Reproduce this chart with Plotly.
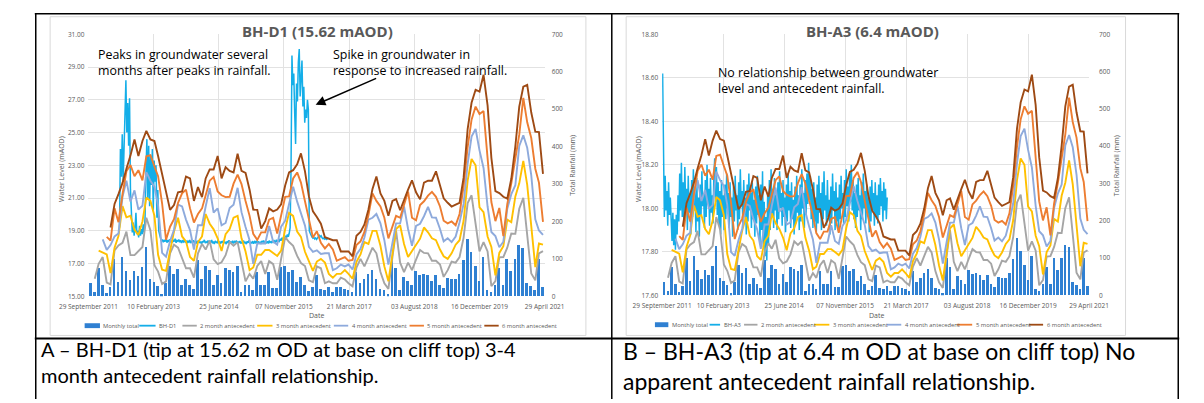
import plotly.graph_objects as go
import pandas as pd

W, H = 1204, 403

# ---------------- data ----------------
tick_dates = ["2011-09-29", "2013-02-10", "2014-06-25", "2015-11-07",
              "2017-03-21", "2018-08-03", "2019-12-16", "2021-04-29"]
tick_labels = ["29 September 2011", "10 February 2013", "25 June 2014", "07 November 2015",
               "21 March 2017", "03 August 2018", "16 December 2019", "29 April 2021"]

# monthly rainfall total (mm), Oct 2011 .. Apr 2021
rain = [35, 12, 75, 30, 7, 25, 98, 38, 105, 68,
        42, 68, 54, 78, 132, 45, 38, 28, 5, 35,
        80, 58, 72, 30, 45, 30, 20, 95, 45, 80,
        69, 30, 56, 35, 75, 70, 65, 80, 10, 30,
        30, 17, 64, 30, 30, 64, 22, 22, 78, 80,
        65, 70, 38, 51, 30, 13, 25, 55, 20, 15,
        25, 10, 25, 25, 20, 15, 12, 65, 35, 45,
        60, 70, 45, 20, 15, 5, 100, 75, 15, 50,
        40, 30, 68, 56, 60, 55, 40, 55, 30, 22,
        48, 45, 45, 60, 97, 152, 118, 80, 40, 105,
        15, 12, 29, 75, 30, 100, 68, 99, 135, 128,
        35, 26, 17, 98, 23]

ante2 = [None,
         47, 87, 105, 37, 32, 123, 136, 143, 173,
         110, 110, 122, 132, 210, 177, 83, 66, 33, 40,
         115, 138, 130, 102, 75, 75, 50, 115, 140, 125,
         149, 99, 86, 91, 110, 145, 135, 145, 90, 40,
         60, 47, 81, 94, 60, 94, 86, 44, 100, 158,
         145, 135, 108, 89, 81, 43, 38, 80, 75, 35,
         40, 35, 35, 50, 45, 35, 27, 77, 100, 80,
         105, 130, 115, 65, 35, 20, 105, 175, 90, 65,
         90, 70, 98, 124, 116, 115, 95, 95, 85, 52,
         70, 93, 90, 105, 157, 249, 270, 198, 120, 145,
         120, 27, 41, 104, 105, 130, 168, 167, 234, 263,
         163, 61, 43, 115, 121]

ante3 = [None, None,
         122, 117, 112, 62, 130, 161, 241, 211,
         215, 178, 164, 200, 264, 255, 215, 111, 71, 68,
         120, 173, 210, 160, 147, 105, 95, 145, 160, 220,
         194, 179, 155, 121, 166, 180, 210, 215, 155, 120,
         70, 77, 111, 111, 124, 124, 116, 108, 122, 180,
         223, 215, 173, 159, 119, 94, 68, 93, 100, 90,
         60, 50, 60, 60, 70, 60, 47, 92, 112, 145,
         140, 175, 175, 135, 80, 40, 120, 180, 190, 140,
         105, 120, 138, 154, 184, 171, 155, 150, 125, 107,
         100, 115, 138, 150, 202, 309, 367, 350, 238, 225,
         160, 132, 56, 116, 134, 205, 198, 267, 302, 362,
         298, 189, 78, 141, 138]

ante4 = [None, None, None,
         152, 124, 137, 160, 168, 266, 309,
         253, 283, 232, 242, 332, 309, 293, 243, 116, 106,
         148, 178, 245, 240, 205, 177, 125, 190, 190, 240,
         289, 224, 235, 190, 196, 236, 245, 290, 225, 185,
         150, 87, 141, 141, 141, 188, 146, 138, 186, 202,
         245, 293, 253, 224, 189, 132, 119, 123, 113, 115,
         115, 70, 75, 85, 80, 85, 72, 112, 127, 157,
         205, 210, 220, 195, 150, 85, 140, 195, 195, 240,
         180, 135, 188, 194, 214, 239, 211, 210, 180, 147,
         155, 145, 160, 198, 247, 354, 427, 447, 390, 343,
         240, 172, 161, 131, 146, 234, 273, 297, 402, 430,
         397, 324, 206, 176, 164]

ante5 = [None, None, None, None,
         159, 149, 235, 198, 273, 334,
         351, 321, 337, 310, 374, 377, 347, 321, 248, 151,
         186, 206, 250, 275, 285, 235, 197, 220, 235, 270,
         309, 319, 280, 270, 265, 266, 301, 325, 300, 255,
         215, 167, 151, 171, 171, 205, 210, 168, 216, 266,
         267, 315, 331, 304, 254, 202, 157, 174, 143, 128,
         140, 125, 95, 100, 105, 95, 97, 137, 147, 172,
         217, 275, 255, 240, 210, 155, 185, 215, 210, 245,
         280, 210, 203, 244, 254, 269, 279, 266, 240, 202,
         195, 200, 190, 220, 295, 399, 472, 507, 487, 495,
         358, 252, 201, 236, 161, 246, 302, 372, 432, 530,
         465, 423, 341, 304, 199]

ante6 = [None, None, None, None, None,
         184, 247, 273, 303, 341,
         376, 419, 375, 415, 442, 419, 415, 375, 326, 283,
         231, 244, 278, 280, 320, 315, 255, 292, 265, 315,
         339, 339, 375, 315, 345, 335, 331, 381, 335, 330,
         285, 232, 231, 181, 201, 235, 227, 232, 246, 296,
         331, 337, 353, 382, 334, 267, 227, 212, 194, 158,
         153, 150, 150, 120, 120, 120, 107, 162, 172, 192,
         232, 287, 320, 275, 255, 215, 255, 260, 230, 260,
         285, 310, 278, 259, 304, 309, 309, 334, 296, 262,
         250, 240, 245, 250, 317, 447, 517, 552, 547, 592,
         510, 370, 281, 276, 266, 261, 314, 401, 507, 560,
         565, 491, 440, 439, 327]

# BH-D1 groundwater level (mAOD), weekly from 24 May 2012
bh_d1 = [19.2, 24.0, 22.3, 24.9, 22.0, 24.4, 25.5, 28.2, 25.0, 26.8, 24.2, 27.1, 21.5, 19.5,
         18.9, 19.5, 18.7, 19.2, 20.1, 18.8, 19.0, 18.6, 19.3, 18.7, 19.1, 18.8, 19.4, 18.9, 19.8,
         22.5, 24.6, 21.0, 24.2, 20.5, 23.6, 21.8, 24.0, 20.2, 23.3, 22.0, 23.0, 19.8, 21.5, 19.0, 18.7,
         18.55, 18.38, 18.47, 18.30, 18.42, 18.35, 18.50, 18.28, 18.44, 18.33, 18.48, 18.31, 18.40,
         18.29, 18.45, 18.34, 18.52, 18.27, 18.41, 18.36, 18.47, 18.30, 18.43, 18.26, 18.39, 18.33,
         18.46, 18.28, 18.40, 18.24, 18.37, 18.31, 18.44, 18.25, 18.38, 18.30, 18.42, 18.27, 18.35,
         18.22, 18.39, 18.29, 18.43, 18.26, 18.34, 18.21, 18.37, 18.30, 18.45, 18.25, 18.33, 18.28,
         18.41, 18.23, 18.36, 18.29, 18.44, 18.24, 18.35, 18.20, 18.38, 18.31, 18.27, 18.42, 18.26,
         18.34, 18.22, 18.37, 18.28, 18.40, 18.25, 18.33, 18.19, 18.36, 18.29, 18.43, 18.24, 18.32,
         18.27, 18.39, 18.23, 18.35, 18.30, 18.41, 18.21, 18.34, 18.26, 18.38, 18.22, 18.31, 18.28,
         18.40, 18.24, 18.33, 18.19, 18.36, 18.27, 18.42, 18.23, 18.30, 18.25, 18.37, 18.21, 18.34,
         18.28, 18.39, 18.22, 18.35, 18.26, 18.31, 18.20, 18.38, 18.29, 18.41, 18.24, 18.33, 18.27,
         18.36, 18.23, 18.40, 18.29, 18.34, 18.25, 18.44, 18.31, 18.38, 18.27, 18.46, 18.33, 18.41,
         18.36, 18.52, 18.40, 18.58, 18.45, 18.62, 18.50, 18.70, 18.56, 18.78, 18.64, 18.85, 19.20,
         22.8, 29.7, 27.9, 28.6, 26.2, 24.3, 28.0, 26.9, 29.3, 30.1,
         27.2, 28.2, 29.4, 26.6, 27.8, 25.6, 26.4, 25.9, 27.0, 26.4,
         19.0,
         18.85, 18.70, 18.62, 18.55, 18.60, 18.50, 18.56, 18.48, 18.58, 18.66,
         18.72, 18.64, 18.70, 18.58, 18.52, 18.56, 18.49, 18.54, 18.47, 18.52]

# BH-A3 groundwater level (mAOD), weekly from 3 October 2011
bh_a3 = [18.62, 18.10, 17.96, 18.15, 17.99, 18.08, 17.92, 18.12, 17.97, 18.05, 17.90, 17.85,
         17.98, 17.83, 17.95, 17.81, 17.97, 17.88, 18.06, 17.94, 18.16, 17.99, 18.21, 17.96,
         18.12, 17.92, 18.19, 18.01, 18.09, 17.90, 18.15, 17.98, 18.07, 17.88, 18.13, 17.96,
         18.18, 17.99, 18.08, 17.89, 18.14, 17.94, 18.05, 17.87, 18.11, 17.97, 18.17, 18.01,
         18.07, 17.91, 18.13, 17.96, 18.20, 18.02, 18.09, 17.92, 18.14, 17.98, 18.06, 17.93,
         18.15, 18.23, 18.03, 18.19, 17.97, 18.12, 17.92, 18.08, 17.88, 18.13, 17.96, 18.06,
         17.90, 18.11, 17.95, 18.16, 18.00, 18.07, 17.91, 18.12, 17.96, 18.05, 17.87, 18.10,
         17.94, 18.15, 17.99, 18.06, 17.90, 18.12, 17.95, 18.18, 18.01, 18.08, 17.92, 18.13,
         17.97, 18.05, 17.88, 18.11, 17.94, 18.16, 17.99, 18.07, 17.91, 18.12, 17.95, 18.04,
         17.87, 18.10, 17.93, 18.15, 17.97, 18.06, 17.84, 18.11, 17.90, 18.17, 17.82, 18.03,
         17.78, 17.96, 17.76, 18.07, 17.83, 18.13, 17.90, 18.18, 17.96, 18.09, 17.91, 18.14,
         17.99, 18.06, 17.90, 18.12, 17.95, 18.17, 18.00, 18.07, 17.92, 18.13, 17.96, 18.05,
         17.89, 18.11, 17.94, 18.16, 17.99, 18.08, 17.91, 18.12, 17.95, 18.04, 17.88, 18.10,
         17.93, 18.15, 17.98, 18.06, 17.90, 18.11, 17.94, 18.18, 18.00, 18.07, 17.91, 18.13,
         17.97, 18.16, 18.02, 18.21, 18.04, 18.15, 17.95, 18.09, 17.91, 18.12, 17.94, 18.05,
         17.89, 18.11, 17.93, 18.15, 17.98, 18.07, 17.90, 18.12, 17.95, 18.17, 17.99, 18.06,
         17.92, 18.13, 17.96, 18.04, 17.88, 18.10, 17.93, 18.16, 17.99, 18.08, 17.90, 18.12,
         17.94, 18.05, 17.89, 18.11, 17.95, 18.15, 18.00, 18.07, 17.93, 18.13, 17.96, 18.18,
         18.01, 18.10, 17.94, 18.16, 18.03, 18.20, 17.99, 18.13, 17.95, 18.07, 17.91, 18.11,
         17.96, 18.14, 17.99, 18.06, 17.90, 18.12, 17.95, 18.16, 18.00, 18.08, 17.93, 18.11,
         17.98, 18.05, 17.89, 18.10, 17.94, 18.13, 17.99, 18.07, 17.92, 18.12, 17.96, 18.06,
         17.93, 18.11, 17.97, 18.14, 18.01, 18.08, 17.94, 18.12, 17.99, 18.09, 17.95, 18.05]

series_names = ["2 month antecedent", "3 month antecedent", "4 month antecedent",
                "5 month antecedent", "6 month antecedent"]

# x categories
months = pd.date_range("2011-10-01", periods=len(rain), freq="MS") + pd.Timedelta(days=15)
d1_dates = pd.date_range("2012-05-24", periods=len(bh_d1), freq="7D")
a3_dates = pd.date_range("2011-10-03", periods=len(bh_a3), freq="7D")

# ---------------- styling ----------------
FONT = "'Open Sans', Lato, sans-serif"
CAP_FONT = "Lato, 'Open Sans', sans-serif"
TXT = "#595959"
GRID = "#e2e2e2"
BAR = "#2f80d2"
BH = "#14aee8"
ANTE_COLORS = ["#a5a5a5", "#ffc000", "#8eaadc", "#ed7d31", "#9e4a14"]
DAY_MS = 86400000


def px(x):
    return x / W


def py(y):
    return 1 - y / H


fig = go.Figure()


def add_chart(xa, ya_left, ya_right, gw_dates, gw_values):
    fig.add_trace(go.Bar(x=months, y=rain, xaxis=xa, yaxis=ya_right,
                         marker=dict(color=BAR, line=dict(width=0)),
                         width=21 * DAY_MS, showlegend=False))
    fig.add_trace(go.Scatter(x=gw_dates, y=gw_values, xaxis=xa, yaxis=ya_left,
                             mode="lines", line=dict(color=BH, width=1.5),
                             showlegend=False))
    for vals, col in zip([ante2, ante3, ante4, ante5, ante6], ANTE_COLORS):
        fig.add_trace(go.Scatter(x=months, y=vals, xaxis=xa, yaxis=ya_right,
                                 mode="lines", line=dict(color=col, width=1.9),
                                 connectgaps=False, showlegend=False))


add_chart("x", "y", "y2", d1_dates, bh_d1)
add_chart("x2", "y3", "y4", a3_dates, bh_a3)

tickfont = dict(family=FONT, size=6.5, color=TXT)
xcommon = dict(type="date", range=["2011-09-28 20:00", "2021-04-29 04:00"],
               tickmode="array", tickvals=tick_dates, ticktext=tick_labels,
               showgrid=True, gridcolor=GRID, gridwidth=1, zeroline=False,
               showline=False, ticks="", tickangle=0, tickfont=tickfont,
               ticklabelstandoff=5)

fig.update_layout(
    width=W, height=H, autosize=False,
    margin=dict(l=0, r=0, t=0, b=0),
    paper_bgcolor="white", plot_bgcolor="rgba(0,0,0,0)",
    showlegend=False, bargap=0,
    xaxis=dict(domain=[px(61), px(537)], anchor="y", **xcommon),
    yaxis=dict(domain=[py(298), py(30)], anchor="x", range=[15, 31], tick0=15, dtick=2,
               tickformat=".2f", showgrid=True, gridcolor=GRID, zeroline=False,
               showline=False, tickfont=tickfont, ticklabelstandoff=3),
    yaxis2=dict(overlaying="y", anchor="x", side="right", range=[0, 700], tick0=0, dtick=100,
                showgrid=False, zeroline=False, showline=False, tickfont=tickfont,
                ticklabelstandoff=6),
    xaxis2=dict(domain=[px(659.5), px(1105)], anchor="y3", **xcommon),
    yaxis3=dict(domain=[py(297), py(30)], anchor="x2", range=[17.6, 18.8], tick0=17.6, dtick=0.2,
                tickformat=".2f", showgrid=True, gridcolor=GRID, zeroline=False,
                showline=False, tickfont=tickfont, ticklabelstandoff=3),
    yaxis4=dict(overlaying="y3", anchor="x2", side="right", range=[0, 700], tick0=0, dtick=100,
                showgrid=False, zeroline=False, showline=False, tickfont=tickfont,
                ticklabelstandoff=9),
)

shapes = []
annotations = []


def ann(text, x, y, size, color=TXT, xanchor="center", yanchor="middle", bold=False,
        family=FONT, **kw):
    if bold:
        text = "<b>" + text + "</b>"
    annotations.append(dict(text=text, x=px(x), y=py(y), xref="paper", yref="paper",
                            showarrow=False, font=dict(family=family, size=size, color=color),
                            xanchor=xanchor, yanchor=yanchor, **kw))


def hline(x0, x1, y, color, width):
    shapes.append(dict(type="line", xref="paper", yref="paper", x0=px(x0), x1=px(x1),
                       y0=py(y), y1=py(y), line=dict(color=color, width=width)))


def vline(x, y0, y1, color, width):
    shapes.append(dict(type="line", xref="paper", yref="paper", x0=px(x), x1=px(x),
                       y0=py(y0), y1=py(y1), line=dict(color=color, width=width)))


# chart image frames
for (x0, x1) in [(21, 580), (622, 1143)]:
    shapes.append(dict(type="rect", xref="paper", yref="paper", layer="below",
                       x0=px(x0), x1=px(x1), y0=py(338), y1=py(12),
                       line=dict(color="#d9d9d9", width=1), fillcolor="white"))

# table borders
hline(5, 1199, 9, "black", 1.5)
hline(5, 1199, 341, "black", 2)
vline(6, 9, 403, "black", 1.5)
vline(607, 9, 403, "black", 1.5)
vline(1198, 9, 403, "black", 1.5)

# titles
ann("BH-D1 (15.62 mAOD)", 300, 27, 15, bold=True)
ann("BH-A3 (6.4 mAOD)", 879, 27, 15, bold=True)

# axis titles
ann("Water Level (mAOD)", 33, 168, 7, textangle=-90)
ann("Total Rainfall (mm)", 566, 164, 7, textangle=-90)
ann("Date", 299, 318, 7)
ann("Water Level (mAOD)", 635, 168, 7, textangle=-90)
ann("Total Rainfall (mm)", 1133, 164, 7, textangle=-90)
ann("Date", 883, 318, 7)

# chart notes
ann("Peaks in groundwater several<br>months after peaks in rainfall.", 69, 40, 12.4,
    color="black", xanchor="left", yanchor="top", align="left")
ann("Spike in groundwater in<br>response to increased rainfall.", 314, 40, 12.4,
    color="black", xanchor="left", yanchor="top", align="left")
ann("No relationship between groundwater<br>level and antecedent rainfall.", 716, 58, 12.4,
    color="black", xanchor="left", yanchor="top", align="left")
annotations.append(dict(text="", x=px(298), y=py(102), xref="paper", yref="paper",
                        showarrow=True, ax=62, ay=-27, arrowhead=2, arrowsize=1.3,
                        arrowwidth=1.5, arrowcolor="black", standoff=0))

# captions
ann("A \u2013 BH-D1 (tip at 15.62 m OD at base on cliff top) 3-4<br>month antecedent rainfall relationship.",
    9, 365, 20, color="black", xanchor="left", yanchor="middle", align="left", family=CAP_FONT)
ann("B \u2013 BH-A3 (tip at 6.4 m OD at base on cliff top) No<br>apparent antecedent rainfall relationship.",
    617, 369, 23, color="black", xanchor="left", yanchor="middle", align="left", family=CAP_FONT)

# legends (drawn)
legend_a = [("Monthly total", BAR, "rect", 57, 73), ("BH-D1", BH, "line", 114, 131)]
legend_b = [("Monthly total", BAR, "rect", 652, 666), ("BH-A3", BH, "line", 709, 720)]
ante_pos_a = [(159, 174), (237, 253), (317, 332), (396, 411), (474, 489)]
ante_pos_b = [(745, 759), (818, 834), (894, 909), (967, 983), (1042, 1057)]
for name, col, (a0, a1) in zip(series_names, ANTE_COLORS, ante_pos_a):
    legend_a.append((name, col, "line", a0, a1))
for name, col, (a0, a1) in zip(series_names, ANTE_COLORS, ante_pos_b):
    legend_b.append((name, col, "line", a0, a1))

for items, ly in [(legend_a, 328), (legend_b, 327)]:
    for name, col, kind, a0, a1 in items:
        if kind == "rect":
            shapes.append(dict(type="rect", xref="paper", yref="paper",
                               x0=px(a0), x1=px(a1), y0=py(ly + 2.5), y1=py(ly - 2.5),
                               line=dict(width=0), fillcolor=col))
        else:
            hline(a0, a1, ly, col, 1.8)
        ann(name, a1 + 1.5, ly, 5.8, xanchor="left")

fig.update_layout(shapes=shapes, annotations=annotations)
fig.write_html("out.html")
